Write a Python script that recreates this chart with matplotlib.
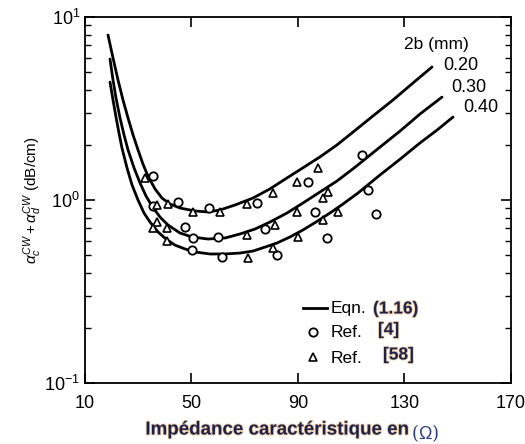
import matplotlib
matplotlib.use("Agg")
import matplotlib.pyplot as plt
import matplotlib.patheffects as pe
from matplotlib.ticker import LogLocator, FixedLocator, NullFormatter, LogFormatterSciNotation

plt.rcParams['font.family'] = ['Liberation Sans', 'DejaVu Sans']
plt.rcParams['mathtext.fontset'] = 'custom'
plt.rcParams['mathtext.rm'] = 'Liberation Sans'
plt.rcParams['mathtext.it'] = 'Liberation Sans:italic'

# ---- curves (Eqn. 1.16), 2b = 0.20, 0.30, 0.40 mm ----
z_020 = [18.64, 20.52, 22.39, 24.27, 26.15, 28.03, 29.91, 31.78, 33.66, 36.29, 38.92, 41.92, 45.68, 51.31,
         56.20, 60.70, 66.34, 73.10, 79.48, 85.87, 91.88, 98.26, 104.65, 110.66, 118.17, 125.68, 133.19, 140.33]
a_020 = [7.97, 5.97, 4.53, 3.52, 2.81, 2.27, 1.88, 1.57, 1.35, 1.15, 1.025, 0.951, 0.904, 0.871,
         0.860, 0.882, 0.939, 1.025, 1.15, 1.32, 1.50, 1.72, 2.00, 2.35, 2.88, 3.52, 4.36, 5.33]

z_030 = [19.39, 20.52, 21.64, 23.15, 24.65, 26.15, 28.40, 30.66, 32.91, 35.16, 38.17, 41.17, 45.68, 50.19,
         56.20, 62.58, 68.22, 73.85, 79.48, 85.87, 91.88, 98.26, 104.65, 111.41, 118.92, 128.31, 135.82, 144.08]
a_030 = [5.89, 4.53, 3.61, 2.81, 2.27, 1.88, 1.50, 1.24, 1.052, 0.927, 0.807, 0.730, 0.660, 0.628,
         0.612, 0.620, 0.652, 0.694, 0.758, 0.849, 0.963, 1.106, 1.27, 1.51, 1.85, 2.38, 2.95, 3.65]

z_040 = [19.39, 20.52, 21.64, 22.77, 23.90, 25.77, 27.65, 29.91, 32.16, 34.41, 37.42, 40.42, 43.80, 47.56,
         51.31, 56.95, 62.58, 68.22, 73.10, 77.61, 82.11, 87.00, 91.88, 96.76, 102.02, 106.90, 112.54,
         120.80, 128.31, 135.82, 142.21, 148.22]
a_040 = [4.41, 3.52, 2.84, 2.32, 1.92, 1.50, 1.21, 1.0, 0.849, 0.758, 0.669, 0.612, 0.567, 0.540,
         0.520, 0.507, 0.507, 0.513, 0.526, 0.553, 0.582, 0.628, 0.686, 0.758, 0.849, 0.951, 1.092,
         1.37, 1.67, 2.05, 2.41, 2.84]

# ---- Ref. [4] (circles) ----
ref4_z = [35.5, 35.5, 44.9, 47.6, 50.2, 56.6, 50.6, 60.0, 61.5, 74.5, 77.6, 82.1, 93.8, 96.4, 100.9, 114.0, 116.3, 119.3]
ref4_a = [1.35, 0.93, 0.975, 0.71, 0.53, 0.90, 0.62, 0.63, 0.49, 0.96, 0.69, 0.50, 1.25, 0.86, 0.62, 1.76, 1.13, 0.84]

# ---- Ref. [58] (triangles) ----
ref58_z = [32.5, 37.0, 41.2, 37.0, 35.5, 40.8, 40.8, 50.6, 60.7, 70.8, 80.6, 70.8, 81.4, 71.2, 80.6,
           89.6, 97.5, 101.3, 99.4, 89.6, 105.0, 99.4, 90.0]
ref58_a = [1.32, 0.94, 0.95, 0.76, 0.70, 0.70, 0.60, 0.86, 0.86, 0.95, 1.09, 0.64, 0.73, 0.48, 0.55,
           1.25, 1.50, 1.11, 1.03, 0.86, 0.86, 0.78, 0.63]

curve_labels = ["0.20", "0.30", "0.40"]
x_ticks = [10, 50, 90, 130, 170]

W, H = 525, 444
fig = plt.figure(figsize=(W / 100, H / 100), dpi=100)
ax = fig.add_axes([85 / W, 1 - 383 / H, 426 / W, 366 / H])

for z, a in [(z_020, a_020), (z_030, a_030), (z_040, a_040)]:
    ax.plot(z, a, color='black', lw=2.0, solid_capstyle='round', solid_joinstyle='round')

ax.plot(ref4_z, ref4_a, linestyle='none', marker='o', ms=6, mfc='white', mec='black', mew=1.3)
ax.plot(ref58_z, ref58_a, linestyle='none', marker='^', ms=5.5, mfc='white', mec='black', mew=1.2)

ax.set_yscale('log')
ax.set_xlim(10, 170)
ax.set_ylim(0.1, 10)
ax.xaxis.set_major_locator(FixedLocator(x_ticks))
ax.set_xticklabels([str(t) for t in x_ticks])
ax.yaxis.set_major_locator(LogLocator(base=10))
ax.yaxis.set_minor_locator(LogLocator(base=10, subs=range(2, 10)))
ax.yaxis.set_minor_formatter(NullFormatter())
ax.yaxis.set_major_formatter(LogFormatterSciNotation())

ax.tick_params(which='both', direction='in', top=True, right=True, labelsize=13, colors='black')
ax.tick_params(which='major', length=7, width=1.2)
ax.tick_params(which='minor', length=4, width=1.0)
ax.tick_params(axis='x', which='major', pad=9)
for s in ax.spines.values():
    s.set_linewidth(1.3)

ax.set_ylabel(r'$\alpha_c^{CW}+\alpha_d^{CW}$ (dB/cm)', fontsize=11, labelpad=0)


def fig_text(px, py, s, **kw):
    return fig.text(px / W, 1 - py / H, s, **kw)


def ax_pt(px, py):
    return (px - 85) / 426, (383 - py) / 366


# curve labels
fig_text(436, 45, "2b (mm)", fontsize=12.5, ha='center', va='center')
fig_text(461, 65, curve_labels[0], fontsize=13, ha='center', va='center')
fig_text(469, 88, curve_labels[1], fontsize=13, ha='center', va='center')
fig_text(481, 108, curve_labels[2], fontsize=13, ha='center', va='center')

# legend (manual)
navy = '#1b2450'
halo = [pe.withStroke(linewidth=1.2, foreground='#f2c89a')]
x0, y0 = ax_pt(303, 308)
x1, _ = ax_pt(327, 308)
ax.plot([x0, x1], [y0, y0], transform=ax.transAxes, color='black', lw=2, clip_on=False)
fig_text(331, 308, "Eqn.", fontsize=12.5, ha='left', va='center')
fig_text(373, 309, "(1.16)", fontsize=12.5, fontweight='bold', color=navy, ha='left', va='center', path_effects=halo)
cx, cy = ax_pt(313, 332)
ax.plot([cx], [cy], transform=ax.transAxes, marker='o', ms=6, mfc='white', mec='black', mew=1.3, clip_on=False)
fig_text(331, 332, "Ref.", fontsize=12.5, ha='left', va='center')
fig_text(378, 330, "[4]", fontsize=12.5, fontweight='bold', color=navy, ha='left', va='center', path_effects=halo)
tx, ty = ax_pt(313, 357)
ax.plot([tx], [ty], transform=ax.transAxes, marker='^', ms=5.5, mfc='white', mec='black', mew=1.2, clip_on=False)
fig_text(331, 358, "Ref.", fontsize=12.5, ha='left', va='center')
fig_text(383, 355, "[58]", fontsize=12.5, fontweight='bold', color=navy, ha='left', va='center', path_effects=halo)

# x label
fig_text(408, 430, "Impédance caractéristique en", fontsize=13.5, fontweight='bold', color=navy,
         ha='right', va='center', path_effects=halo)
fig_text(411, 433, r"($\Omega$)", fontsize=13, color='#2a3c8c', ha='left', va='center',
         family=['DejaVu Serif'])

fig.savefig("out.png", dpi=100)
